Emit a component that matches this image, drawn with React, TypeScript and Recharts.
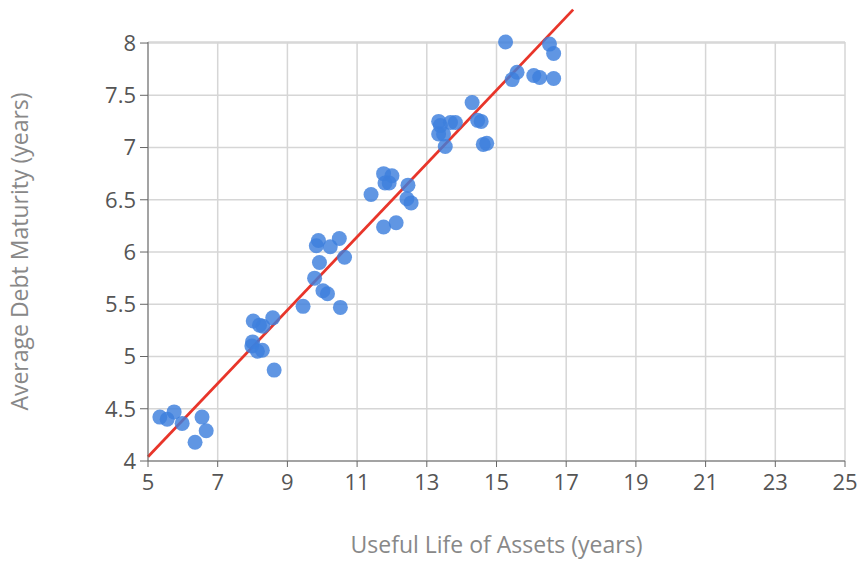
import React from "react";
import {
  ScatterChart,
  Scatter,
  XAxis,
  YAxis,
  CartesianGrid,
  ReferenceLine,
} from "recharts";

const usefulLife: number[] = [
  5.34, 5.55, 5.75, 5.98, 6.35, 6.55, 6.67,
  8.02, 8.2, 8.3, 8.58, 8.0, 7.98, 8.14, 8.28, 8.62, 9.45,
  9.89, 9.83, 10.23, 10.49, 9.92, 9.78, 10.02, 10.15, 10.64, 10.52,
  11.76, 12.0, 11.8, 11.92, 11.4, 12.46, 12.43, 12.55, 11.76, 12.12,
  14.3, 13.34, 13.39, 13.68, 13.82, 13.34, 13.48, 13.53, 14.46, 14.56, 14.62, 14.72,
  15.26, 16.52, 16.64, 15.59, 15.45, 16.07, 16.24, 16.64,
];
const debtMaturity: number[] = [
  4.42, 4.4, 4.47, 4.36, 4.18, 4.42, 4.29,
  5.34, 5.3, 5.29, 5.37, 5.14, 5.1, 5.05, 5.06, 4.87, 5.48,
  6.11, 6.06, 6.05, 6.13, 5.9, 5.75, 5.63, 5.6, 5.95, 5.47,
  6.75, 6.73, 6.66, 6.66, 6.55, 6.64, 6.51, 6.47, 6.24, 6.28,
  7.43, 7.25, 7.21, 7.24, 7.24, 7.13, 7.13, 7.01, 7.26, 7.25, 7.03, 7.04,
  8.01, 7.99, 7.9, 7.72, 7.65, 7.69, 7.67, 7.66,
];
const xTicks: number[] = [5, 7, 9, 11, 13, 15, 17, 19, 21, 23, 25];
const yTicks: number[] = [4, 4.5, 5, 5.5, 6, 6.5, 7, 7.5, 8];
const fitStart = { x: 5, y: 4.04 };
const fitEnd = { x: 17.2, y: 8.32 };

const data = usefulLife.map((x, i) => ({ x, y: debtMaturity[i] }));

const font = "'Segoe UI', 'Open Sans', sans-serif";

export default function App() {
  return (
    <div style={{ position: "absolute", left: 0, top: 0 }}>
      <ScatterChart
        width={860}
        height={565}
        margin={{ top: 42, right: 15, bottom: 0, left: 0 }}
      >
        <CartesianGrid stroke="#d6d6d6" strokeWidth={1.5} />
        <XAxis
          type="number"
          dataKey="x"
          domain={[5, 25]}
          ticks={xTicks}
          interval={0}
          height={104}
          stroke="#666"
          tickLine={{ stroke: "#666" }}
          tickSize={6}
          tickMargin={7}
          tick={{ fill: "#555", fontSize: 22, fontFamily: font }}
          label={{
            value: "Useful Life of Assets (years)",
            position: "insideBottom",
            offset: 12,
            fill: "#888",
            fontSize: 23,
            fontFamily: font,
          }}
        />
        <YAxis
          type="number"
          dataKey="y"
          domain={[4, 8]}
          ticks={yTicks}
          interval={0}
          width={148}
          stroke="#666"
          tickSize={8}
          tickMargin={4}
          tick={{ fill: "#555", fontSize: 22, fontFamily: font }}
          label={{
            value: "Average Debt Maturity (years)",
            angle: -90,
            position: "insideLeft",
            offset: 20,
            style: { textAnchor: "middle" },
            fill: "#888",
            fontSize: 23,
            fontFamily: font,
          }}
        />
        <Scatter
          data={data}
          fill="#3d7fdd"
          fillOpacity={0.82}
          isAnimationActive={false}
          shape={(p: any) => (
            <circle cx={p.cx} cy={p.cy} r={7.5} fill="#3d7fdd" fillOpacity={0.82} />
          )}
        />
        <ReferenceLine
          segment={[fitStart, fitEnd]}
          stroke="#e8352a"
          strokeWidth={2.8}
          ifOverflow="visible"
        />
      </ScatterChart>
    </div>
  );
}
